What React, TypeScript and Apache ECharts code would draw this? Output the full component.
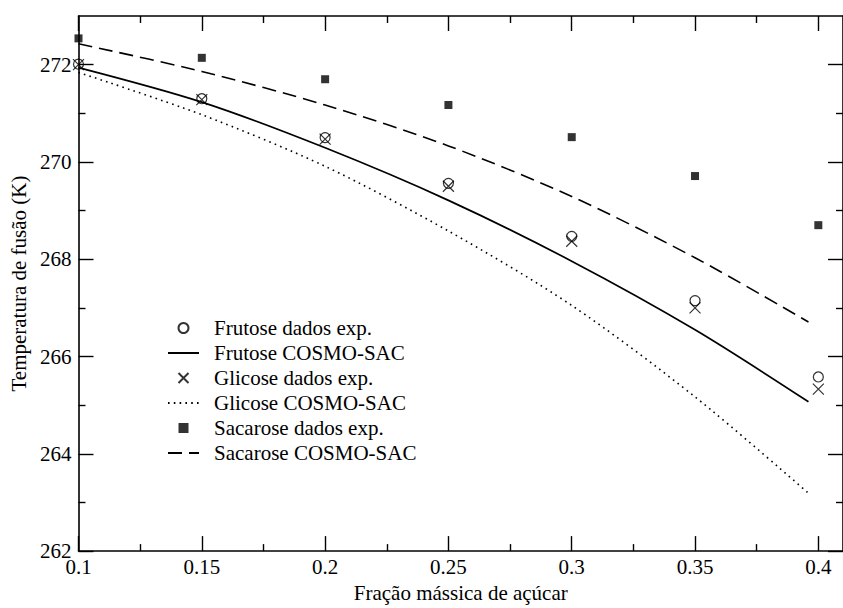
import React, { useEffect, useRef } from 'react';
import * as echarts from 'echarts';

const xMajorTicks = [0.1, 0.15, 0.2, 0.25, 0.3, 0.35, 0.4];
const xMinorTicks = [0.125, 0.175, 0.225, 0.275, 0.325, 0.375];
const yMajorTicks = [262, 264, 266, 268, 270, 272];
const yMinorTicks = [263, 265, 267, 269, 271];

const expX = [0.1, 0.15, 0.2, 0.25, 0.3, 0.35, 0.4];
const frutoseExp = [272.01, 271.3, 270.5, 269.56, 268.47, 267.15, 265.58];
const glicoseExp = [272.0, 271.28, 270.47, 269.5, 268.37, 267.0, 265.33];
const sacaroseExp = [272.54, 272.14, 271.7, 271.17, 270.51, 269.71, 268.7];

const modelX = [0.1, 0.15, 0.2, 0.25, 0.3, 0.35, 0.396];
const frutoseModel = [271.94, 271.23, 270.29, 269.21, 267.96, 266.55, 265.07];
const glicoseModel = [271.84, 270.97, 269.91, 268.58, 267.05, 265.17, 263.19];
const sacaroseModel = [272.43, 271.86, 271.17, 270.33, 269.29, 268.03, 266.71];

const FONT = 'Liberation Serif';
const X_MIN = 0.1;
const X_MAX = 0.41;
const Y_MIN = 262;
const Y_MAX = 273;

const pairs = (xs: number[], ys: number[]) => xs.map((x, i) => [x, ys[i]]);

const X_SYMBOL = 'path://M0,0L10,10M0,10L10,0';
const SQUARE_SYMBOL = 'path://M0,0L10,0L10,10L0,10Z';

export default function App() {
  const ref = useRef<HTMLDivElement>(null);
  useEffect(() => {
    document.body.style.margin = '0';
    const chart = echarts.init(ref.current!, null, { renderer: 'svg' });
    const axisLineStyle = { color: '#000', width: 1.6 };
    const baseX = (position: 'top' | 'bottom', major: boolean, showLine: boolean, showLabel: boolean) => ({
      type: 'value',
      position,
      min: X_MIN,
      max: X_MAX,
      interval: 0.05,
      axisLine: { show: showLine, onZero: false, lineStyle: axisLineStyle },
      axisTick: {
        show: true,
        inside: true,
        length: major ? 15 : 7,
        customValues: major ? xMajorTicks : xMinorTicks,
        lineStyle: { color: '#000', width: 1.4 },
      },
      axisLabel: {
        show: showLabel,
        customValues: xMajorTicks,
        margin: 5,
        color: '#000',
        fontFamily: FONT,
        fontSize: 21,
        formatter: (v: number) => String(v),
      },
      splitLine: { show: false },
    });
    const baseY = (position: 'left' | 'right', major: boolean, showLine: boolean, showLabel: boolean) => ({
      type: 'value',
      position,
      min: Y_MIN,
      max: Y_MAX,
      interval: 1,
      axisLine: { show: showLine, onZero: false, lineStyle: axisLineStyle },
      axisTick: {
        show: true,
        inside: true,
        length: major ? 15 : 7,
        customValues: major ? yMajorTicks : yMinorTicks,
        lineStyle: { color: '#000', width: 1.4 },
      },
      axisLabel: {
        show: showLabel,
        customValues: yMajorTicks,
        margin: 7,
        color: '#000',
        fontFamily: FONT,
        fontSize: 21,
      },
      splitLine: { show: false },
    });

    const xBottom: any = baseX('bottom', true, true, true);
    xBottom.name = 'Fração mássica de açúcar';
    xBottom.nameLocation = 'middle';
    xBottom.nameGap = 23;
    xBottom.nameTextStyle = { color: '#000', fontFamily: FONT, fontSize: 21 };

    const yLeft: any = baseY('left', true, true, true);
    yLeft.name = 'Temperatura de fusão (K)';
    yLeft.nameLocation = 'middle';
    yLeft.nameGap = 45;
    yLeft.nameRotate = 90;
    yLeft.nameTextStyle = { color: '#000', fontFamily: FONT, fontSize: 21 };

    const lineSeries = (name: string, ys: number[], type: any) => ({
      name,
      type: 'line',
      data: pairs(modelX, ys),
      smooth: 0.3,
      symbol: 'none',
      lineStyle: { color: '#000', width: type === 'solid' ? 1.7 : 1.6, type },
      itemStyle: { color: '#000' },
      z: 2,
    });

    const hiddenSymbol = { color: 'rgba(0,0,0,0)', borderColor: 'rgba(0,0,0,0)', borderWidth: 0 };

    chart.setOption({
      animation: false,
      backgroundColor: '#fff',
      grid: { left: 78.5, top: 16, width: 774.2, height: 542.5, containLabel: false },
      xAxis: [
        xBottom,
        baseX('bottom', false, false, false),
        baseX('top', true, true, false),
        baseX('top', false, false, false),
      ],
      yAxis: [
        yLeft,
        baseY('left', false, false, false),
        baseY('right', true, true, false),
        baseY('right', false, false, false),
      ],
      legend: {
        orient: 'vertical',
        left: 167,
        top: 315.5,
        padding: 0,
        itemGap: 0,
        itemWidth: 31,
        itemHeight: 10,
        textStyle: {
          color: '#000',
          fontFamily: FONT,
          fontSize: 21,
          lineHeight: 25,
          padding: [0, 0, 0, 10],
        },
        data: [
          { name: 'Frutose dados exp.' },
          { name: 'Frutose COSMO-SAC', itemStyle: hiddenSymbol },
          { name: 'Glicose dados exp.' },
          { name: 'Glicose COSMO-SAC', itemStyle: hiddenSymbol },
          { name: 'Sacarose dados exp.' },
          { name: 'Sacarose COSMO-SAC', itemStyle: hiddenSymbol },
        ],
      },
      series: [
        {
          name: 'Frutose dados exp.',
          type: 'scatter',
          data: pairs(expX, frutoseExp),
          symbol: 'circle',
          symbolSize: 10,
          itemStyle: { color: 'rgba(255,255,255,0)', borderColor: '#000', borderWidth: 1.2 },
          z: 3,
        },
        lineSeries('Frutose COSMO-SAC', frutoseModel, 'solid'),
        {
          name: 'Glicose dados exp.',
          type: 'scatter',
          data: pairs(expX, glicoseExp),
          symbol: X_SYMBOL,
          symbolSize: 11,
          itemStyle: { color: 'rgba(255,255,255,0)', borderColor: '#000', borderWidth: 1.2 },
          z: 3,
        },
        lineSeries('Glicose COSMO-SAC', glicoseModel, [1.6, 4.2]),
        {
          name: 'Sacarose dados exp.',
          type: 'scatter',
          data: pairs(expX, sacaroseExp),
          symbol: SQUARE_SYMBOL,
          symbolSize: 8,
          itemStyle: { color: '#000' },
          z: 3,
        },
        lineSeries('Sacarose COSMO-SAC', sacaroseModel, [14, 7]),
      ],
    });
    return () => chart.dispose();
  }, []);
  return <div ref={ref} style={{ width: 843, height: 608 }} />;
}
